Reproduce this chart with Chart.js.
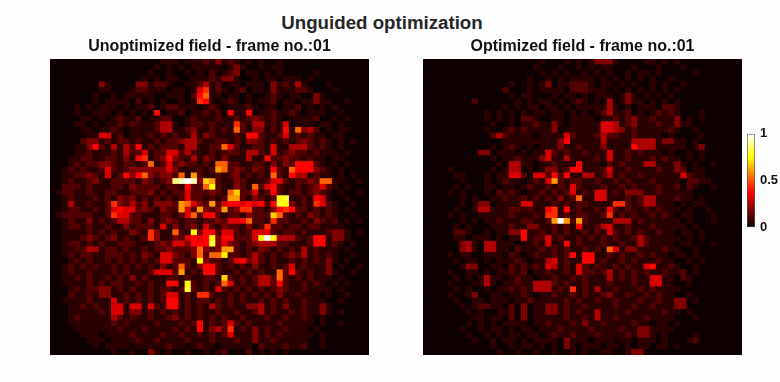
<!DOCTYPE html>
<html>
<head>
<meta charset="utf-8">
<title>Unguided optimization</title>
<script src="https://cdn.jsdelivr.net/npm/chart.js@4"></script>
<style>
  html, body { margin: 0; padding: 0; background: #fefefe; }
  body { position: relative; width: 780px; height: 382px; overflow: hidden; font-family: "Liberation Sans", Arial, sans-serif; }
  h1 { position: absolute; left: 0; top: 10px; width: 764px; margin: 0; text-align: center; font-size: 18.7px; line-height: 26px; font-weight: bold; color: #262626; }
  canvas { position: absolute; display: block; }
  #fieldA { left: 50px; top: 35px; filter: blur(0.6px); }
  #fieldB { left: 423px; top: 35px; filter: blur(0.6px); }
  #bar { left: 747px; top: 121px; }
</style>
</head>
<body>
<h1>Unguided optimization</h1>
<canvas id="fieldA" width="319" height="320"></canvas>
<canvas id="fieldB" width="319" height="320"></canvas>
<canvas id="bar" width="33" height="119"></canvas>
<script>
const titleA = 'Unoptimized field - frame no.:01';
const titleB = 'Optimized field - frame no.:01';
const barTicks = [0, 0.5, 1];

// what each hex digit in the rows below stands for
const levels = [0.005, 0.05, 0.11, 0.18, 0.25, 0.32, 0.38, 0.44, 0.52, 0.6, 0.68, 0.74, 0.8, 0.87, 0.93, 1];

// intensity, one hex digit per cell, top row first
const unoptimizedRows = [
  '0000000000 0000000011 1011121312 1010100100 0000000000 00',
  '0000000000 0000000101 0101111101 3100101100 0000000000 00',
  '0000000000 0000001001 0010102012 3011010100 0001000000 00',
  '0000000000 0000010101 1001112133 1001011011 1010000000 00',
  '0000000031 0000331221 0011241201 1011103121 4100010000 00',
  '0000000011 0001221110 1101571210 1201103111 2210001000 00',
  '0000000100 1011111001 1102681101 1010012101 1003100000 00',
  '0000000101 1110201010 0101761012 1010112011 0113110010 00',
  '0000101011 1010112012 2111012101 1121011011 2010101000 00',
  '0000100111 0101010601 1201121206 1160112112 1011100100 00',
  '0000011010 1211201122 0012111211 2123212101 1112001010 00',
  '0000110101 1212111244 1012212111 7214412150 1110110100 00',
  '0000011011 2101111244 1123112121 8213312161 8342010110 00',
  '0000001155 1201112121 2114132111 2166211251 2121101100 00',
  '0000023312 1221211212 2344211221 2133212121 2321210101 00',
  '0000113621 4142612122 2144112285 2112215114 4421210100 00',
  '0000112111 2142251225 5242112122 2144215123 2212111010 00',
  '0001122112 2131671236 3214132131 1141162232 2121101100 00',
  '0001212233 2122128125 2322121882 2112213132 6662101010 00',
  '0012121125 2123333335 3111212982 3213216218 6663210100 00',
  '0011223215 1263683233 2819211212 3121218216 4412110101 00',
  '0012112311 2222132123 defe3a9211 3211125521 2232881100 10',
  '0022212111 2213222212 216228b211 3218256211 2123521010 00',
  '0122112112 2112223121 2252223218 a225126212 2123210100 10',
  '0012111212 1323121212 1252212129 9213212bc1 1216510010 00',
  '0014112112 7324231333 2985329256 6565626cb3 1217521001 00',
  '0012211212 5655232132 2952932392 3772213676 2212121010 00',
  '0122222112 7552211122 1258266212 213222a821 2132121001 00',
  '0012113121 2442213123 2122122325 5682217221 1213212010 10',
  '0012212112 1131222151 3123152132 2131272212 2122111100 00',
  '0011112121 2113217311 821b366255 2125552122 1211123310 10',
  '0011123212 3121127311 325656b366 2225bfb444 2126613310 00',
  '0012212121 1222111232 553666c353 2123444221 1126612101 00',
  '0011224412 2121121223 2223832399 2121321212 1412111010 00',
  '0012122112 2212132155 32138288b2 2124212123 2412121001 00',
  '0001212112 1212121255 2221b32212 5634212112 1212131010 00',
  '0012121211 2121212131 2821366212 1213112125 1211130100 10',
  '0012112111 2121112555 2912166211 2121211826 2121131001 00',
  '0011212112 1213121112 21211221a2 1212442821 2121110100 00',
  '0011112121 2211212116 61b2121285 1212442621 1212101010 00',
  '0001212233 1212112122 12c2121521 2121212321 1211110100 00',
  '0002112133 1121212125 5121772112 1212121311 2111010010 00',
  '0011112111 5121212126 6121221212 1211212121 1211100100 00',
  '0001121211 5515515216 6121214212 1133412131 1211310000 00',
  '0001111121 5513312121 2121211211 2112412112 1211310100 00',
  '0001211111 4212112112 3121212121 1211121121 1210100000 00',
  '0001111111 2121111211 1212612125 2121111211 1110100100 00',
  '0000111111 1211121111 2121613427 1213121121 1101000000 00',
  '0000011101 1112111121 1211212125 1113121211 1110100000 00',
  '0000001110 1111211211 1121112111 2113112111 1100100000 00',
  '0000000101 1110111112 1101211011 1110211121 1200100000 00',
  '0000000000 1001003101 0010010120 0020101010 0000000000 00'
];

const optimizedRows = [
  '0000000000 0000000001 0001010133 3100001101 0100000000 00',
  '0000000000 0000000010 0010010101 1000100010 0010000000 00',
  '0000000000 0000000001 0101001010 1001011010 0000100000 00',
  '0000000000 0000000100 1010111101 0101010100 1000000000 00',
  '0000000000 0000100101 3011222101 1010100101 0010000000 00',
  '0000000000 0002000101 1110222111 0101010101 0100000000 00',
  '0000000000 0000101100 0101101011 1013101010 1000000000 00',
  '0000000020 0000010101 1010121010 4013110101 0100000000 00',
  '0000000000 0001010110 1101011111 4101011102 2100000000 00',
  '0000000000 1010101011 0110101012 4112010121 2100010000 00',
  '0000000000 1010102210 0110111101 1212311211 1301010000 00',
  '0000000000 0100101121 1310111115 5412311121 1311000000 00',
  '0000000000 1001212111 1301111115 5431211111 2100100000 00',
  '0000000000 0242111101 1115211124 2211211110 1000010000 00',
  '0000000000 0001111111 1136111114 1111444413 3110100000 00',
  '0000000000 0101210101 1131121113 1111644411 1110130000 00',
  '0000000003 3011101011 5212112111 5112121110 1001010000 00',
  '0000000000 0101121113 5114111121 5112111212 1101010000 00',
  '0000000000 0010441101 1211161110 2121114411 1310100100 00',
  '0000100000 0101440101 3312661112 5112111121 1320110000 00',
  '0000011000 1011552055 2626114412 4121121111 1152110000 00',
  '0000001000 1012110121 5921221121 1212111211 1102211000 00',
  '0000010100 1101101211 2121521112 1121211121 1202100100 00',
  '0000101000 1021210112 1212512155 1213331121 1111000000 00',
  '0000001010 0112112121 2131281155 1112124411 1211010000 00',
  '0000001013 3011115511 1212122111 1772124411 1010110000 00',
  '0000010014 4111221211 6716121121 6212112121 1101001000 00',
  '0000101001 1111211121 7712122112 7121211212 1011000100 00',
  '0000001010 1121112211 29f9292111 1444121111 1101000100 00',
  '0000010100 0111211331 1212161124 5112111211 1110100000 00',
  '0000022100 1011336112 1212112121 5212121121 1011010000 00',
  '0000011011 1010116122 5121121212 1211242111 1101010000 00',
  '0000003410 4411101121 5116121112 1121142111 1011000100 00',
  '0000003410 4411021112 1212112121 8513311112 1100100000 00',
  '0000101100 1110210121 1212616611 2121121211 0110100000 00',
  '0000010110 1011121011 4512116612 1121211121 1001010000 00',
  '0000001330 0110212121 5412152121 1212115611 2100100000 00',
  '0000100110 1011212011 2112152212 4121212112 1120100000 00',
  '0000010101 4110121101 1211212111 4121211551 1021000000 00',
  '0000100011 4101121144 4212112111 2111211551 1001000000 00',
  '0000010100 1011212144 4121712141 1211121211 1100000000 00',
  '0000100130 0110112101 1211212112 3112112121 1001000000 00',
  '0000010011 0111011211 1112121121 1211121121 1330100000 00',
  '0000001012 2110203011 3312112111 1211211211 1330000000 00',
  '0000000101 0011203011 3312121141 1112111112 1101000000 00',
  '0000000011 0110203011 1112112141 1211112111 1000100000 00',
  '0000000101 0101111011 2111213112 1111211011 0100000000 00',
  '0000001001 0110101101 1121111211 1121133111 1000000000 00',
  '0000000100 1010110110 1211211121 1112133101 0000100000 00',
  '0000000010 0101101011 1103111011 1011011101 0001200000 00',
  '0000000000 0100101101 0103101110 1101011011 0100000000 00',
  '0000000000 0010010010 0100101001 1001330000 0000000000 00'
];

function parseRows(rows) {
  return rows.map(r => r.replace(/ /g, '').split('').map(c => levels[parseInt(c, 16)]));
}

// matlab "hot" colormap
function hotColor(v) {
  const r = Math.min(1, 0.0417 + v / 0.375 * 0.9583);
  const g = Math.max(0, Math.min(1, (v - 0.375) / 0.375));
  const b = Math.max(0, Math.min(1, (v - 0.75) / 0.25));
  return 'rgb(' + Math.round(r * 255) + ',' + Math.round(g * 255) + ',' + Math.round(b * 255) + ')';
}

// black behind the cells so seams between bars stay dark
const plotBackground = {
  id: 'plotBackground',
  beforeDatasetsDraw(chart) {
    const a = chart.chartArea;
    chart.ctx.fillStyle = '#0a0000';
    chart.ctx.fillRect(a.left, a.top, a.width, a.height);
  }
};

function createField(id, title, rows) {
  const cells = parseRows(rows);
  const cols = cells[0].map((_, i) => i);
  // stacked bars, one dataset per row, bottom row first
  const datasets = cells.slice().reverse().map(row => ({
    data: row.map(() => 1),
    backgroundColor: row.map(hotColor),
    borderWidth: 0,
    barPercentage: 1,
    categoryPercentage: 1
  }));
  return new Chart(document.getElementById(id), {
    type: 'bar',
    data: { labels: cols, datasets },
    options: {
      responsive: false,
      animation: false,
      layout: { padding: 0 },
      plugins: {
        legend: { display: false },
        tooltip: { enabled: false },
        title: {
          display: true,
          text: title,
          color: '#111111',
          font: { family: '"Liberation Sans"', size: 16, weight: 'bold' },
          padding: { top: 2.4, bottom: 2.4 }
        }
      },
      scales: {
        x: { display: false, stacked: true },
        y: { display: false, stacked: true, min: 0, max: cells.length }
      }
    },
    plugins: [plotBackground]
  });
}

function createColorbar() {
  return new Chart(document.getElementById('bar'), {
    type: 'bar',
    data: {
      labels: [''],
      datasets: [{
        data: [[barTicks[0], barTicks[2]]],
        barPercentage: 1,
        categoryPercentage: 1,
        borderWidth: 1,
        borderColor: '#555555',
        borderSkipped: false,
        backgroundColor(ctx) {
          const area = ctx.chart.chartArea;
          if (!area) return '#000';
          const g = ctx.chart.ctx.createLinearGradient(0, area.bottom, 0, area.top);
          g.addColorStop(0, '#0a0000');
          g.addColorStop(0.375, '#ff0000');
          g.addColorStop(0.75, '#ffff00');
          g.addColorStop(1, '#ffffff');
          return g;
        }
      }]
    },
    options: {
      responsive: false,
      animation: false,
      layout: { padding: { top: 10, bottom: 10 } },
      plugins: { legend: { display: false }, tooltip: { enabled: false } },
      scales: {
        x: { display: false },
        y: {
          position: 'right',
          min: 0,
          max: 1,
          afterFit(scale) { scale.width = 25; },
          afterBuildTicks(scale) { scale.ticks = barTicks.map(v => ({ value: v })); },
          grid: { display: false, drawTicks: false },
          border: { display: false },
          ticks: {
            color: '#111111',
            padding: 5,
            font: { family: '"Liberation Sans"', size: 13, weight: 'bold' },
            callback: v => String(v)
          }
        }
      }
    }
  });
}

createField('fieldA', titleA, unoptimizedRows);
createField('fieldB', titleB, optimizedRows);
createColorbar();
</script>
</body>
</html>
